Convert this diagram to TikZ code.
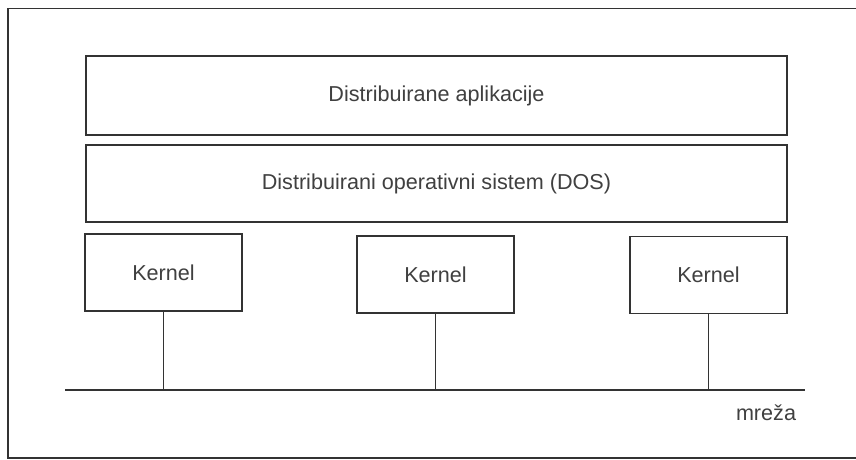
\documentclass[tikz,border=0pt]{standalone}
\usepackage{fontspec}
\setmainfont{Liberation Sans}
\begin{document}
\begin{tikzpicture}[x=1pt,y=-1pt,
  ink/.style={draw=black!80, line width=1.6pt},
  label font/.style={font=\fontsize{21.6}{26}\selectfont, text=black!75},
  layer/.style={ink, rectangle, minimum width=701pt, inner sep=0pt, label font},
  kernelbox/.style={ink, rectangle, minimum width=157pt, minimum height=77pt,
    inner sep=0pt, label font},
  wire/.style={ink, line width=1.5pt}]
  \useasboundingbox (0,0) rectangle (856,460);
  \fill[white] (0,0) rectangle (856,460);

  % outer frame
  \draw[ink] (856,8.5) -- (8,8.5) -- (8,458) -- (856,458);

  % layered system
  \node[layer, minimum height=79pt] (apps) at (436.5,95.5) {Distribuirane aplikacije};
  \node[layer, minimum height=77pt] (dos) at (436.5,183.5) {Distribuirani operativni sistem (DOS)};

  % kernels on each machine
  \node[kernelbox] (k1) at (163.5,272.5) {Kernel};
  \node[kernelbox] (k2) at (435.5,274.5) {Kernel};
  \node[kernelbox] (k3) at (708.5,275) {Kernel};

  % network bus
  \coordinate (netL) at (65,390);
  \coordinate (netR) at (805,390);
  \draw[wire] (netL) -- (netR);
  \draw[wire] (k1.south) -- (k1.south |- netL);
  \draw[wire] (k2.south) -- (k2.south |- netL);
  \draw[wire] (k3.south) -- (k3.south |- netL);

  \node[label font] (net) at (766,413) {mreža};
\end{tikzpicture}
\end{document}
